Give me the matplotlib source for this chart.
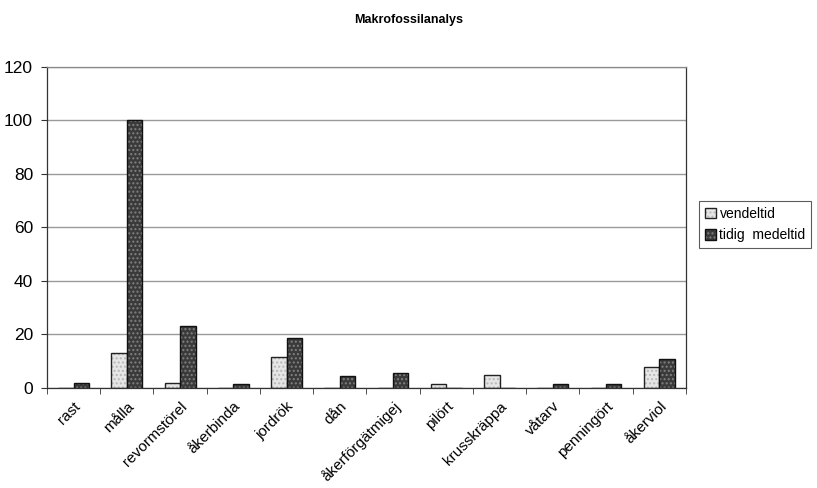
import numpy as np
import matplotlib.pyplot as plt

plt.rcParams['font.family'] = ['Liberation Sans', 'DejaVu Sans']

# arter och antal fynd per period
arter = ["rast", "målla", "revormstörel", "åkerbinda", "jordrök", "dån",
         "åkerförgätmigej", "pilört", "krusskräppa", "våtarv", "penningört", "åkerviol"]
vendeltid = [0, 13, 2, 0, 11.5, 0, 0, 1.5, 4.7, 0, 0, 8]
tidig_medeltid = [2, 100, 23, 1.3, 18.5, 4.5, 5.5, 0, 0, 1.6, 1.6, 11]

fig = plt.figure(figsize=(8.17, 4.88), dpi=100)
ax = fig.add_axes([0.0575, 0.205, 0.782, 0.658])

x = np.arange(len(arter))
w = 0.29
b1 = ax.bar(x - w / 2, vendeltid, w, color="#e6e6e6", edgecolor="#222222",
            linewidth=1.0, hatch="....", label="vendeltid")
b2 = ax.bar(x + w / 2, tidig_medeltid, w, color="#3a3a3a", edgecolor="#111111",
            linewidth=1.0, hatch="....", label="tidig  medeltid")
for p in b1:
    p._hatch_color = (0.72, 0.72, 0.72, 1)
for p in b2:
    p._hatch_color = (0.5, 0.5, 0.5, 1)

ax.set_xlim(-0.5, len(arter) - 0.5)
ax.set_ylim(0, 120)
ax.set_yticks(range(0, 121, 20))
ax.yaxis.grid(True, color="#9a9a9a", linewidth=1.0)
ax.set_axisbelow(True)
for s in ax.spines.values():
    s.set_color("#333333")
    s.set_linewidth(0.9)
ax.spines["top"].set_color("#888888")

ax.set_xticks(x)
ax.set_xticklabels(arter, rotation=45, ha="right", rotation_mode="anchor", fontsize=11)
ax.set_xticks(np.arange(-0.5, len(arter), 1), minor=True)
ax.tick_params(axis="x", which="major", length=0, pad=8)
ax.tick_params(axis="x", which="minor", length=4, direction="out", color="#333333")
ax.tick_params(axis="y", length=4, direction="out", labelsize=12.5, pad=6, color="#333333")

fig.text(0.5, 0.96, "Makrofossilanalys", ha="center", va="center",
         fontsize=9, fontweight="bold")

leg = fig.legend(handles=[b1, b2], loc="center left", bbox_to_anchor=(0.856, 0.54),
                 frameon=True, fancybox=False, shadow=False, fontsize=10,
                 handlelength=0.8, handleheight=0.8, handletextpad=0.25,
                 borderpad=0.4, labelspacing=0.55, borderaxespad=0)
leg.get_frame().set_edgecolor("#333333")
leg.get_frame().set_linewidth(0.8)

fig.savefig("out.png", dpi=100)
